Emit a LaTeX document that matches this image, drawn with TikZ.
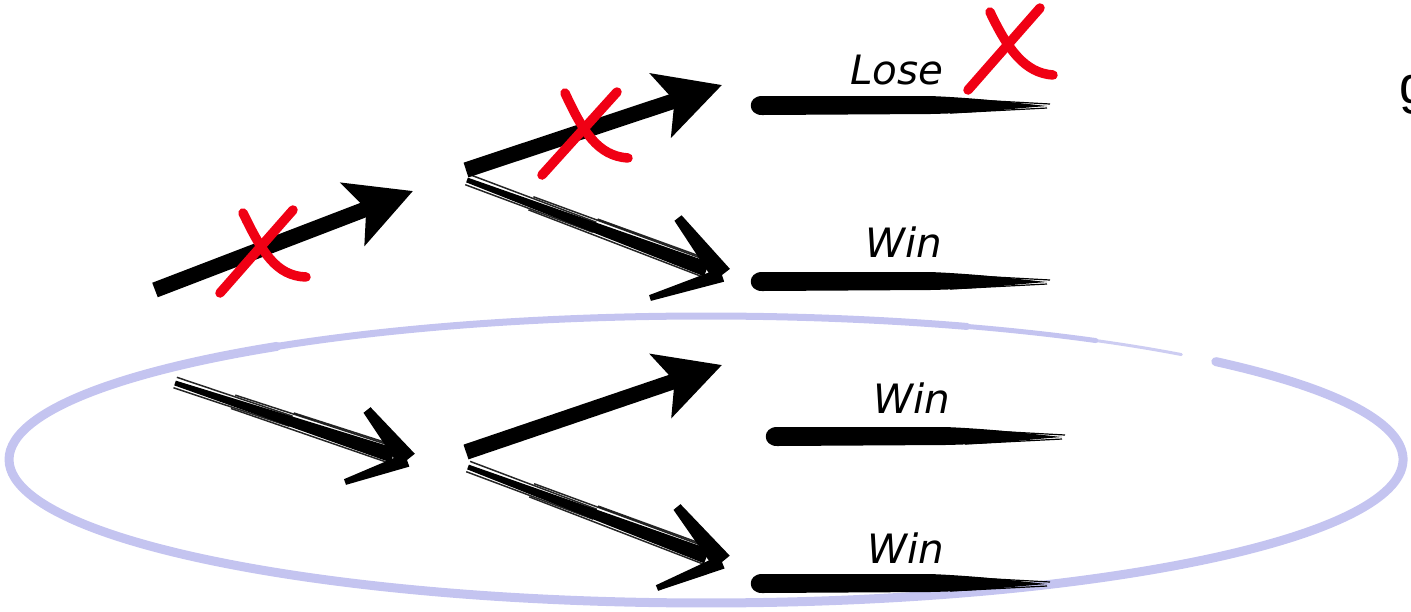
\documentclass[tikz,border=0pt]{standalone}
\usepackage{fontspec}
\usetikzlibrary{arrows.meta,calc}
\newfontfamily\handfont{DejaVu Sans}
\newfontfamily\gfont{Liberation Sans}
\definecolor{xred}{RGB}{240,0,20}
\definecolor{lav}{RGB}{196,196,240}
\tikzset{
  boldarrow/.style={draw=black, line width=0.155cm,
    -{Stealth[length=0.64cm, width=0.66cm, inset=0.14cm]}},
  redx/.style={draw=xred, line width=0.095cm, line cap=round, line join=round},
  streak/.style={draw=black, line width=0.015cm, opacity=0.85},
  label/.style={font=\handfont\itshape\fontsize{11.5}{12}\selectfont, inner sep=0pt},
  ell/.style={draw=lav, line cap=round},
}
\newcommand\taperstroke[4]{%
  \fill ($(#1)!#3!90:(#2)$) -- ($(#2)!#4!-90:(#1)$) -- ($(#2)!#4!90:(#1)$) -- ($(#1)!#3!-90:(#2)$) -- cycle;}
\newcommand\brusharrow[4]{%
  \coordinate (ba-e) at ($(#2)!0.06!(#1)$);
  \coordinate (ba-m) at ($(#1)!0.5!(#2)$);
  \coordinate (ba-q) at ($(#1)!0.25!(#2)$);
  \taperstroke{#1}{ba-e}{0.025cm}{0.075cm}
  \draw[streak] ($(#1)!0.06cm!90:(#2)$) -- ($(ba-m)!0.055cm!90:(#2)$);
  \draw[streak] ($(#1)!0.05cm!-90:(#2)$) -- ($(ba-m)!0.05cm!-90:(#2)$);
  \draw[streak] ($(ba-q)!0.075cm!90:(#2)$) -- ($(ba-e)!0.085cm!-90:(#1)$);
  \draw[streak] ($(ba-q)!0.065cm!-90:(#2)$) -- ($(ba-e)!0.085cm!90:(#1)$);
  \draw[streak] ($(ba-m)!0.09cm!90:(#2)$) -- ($(ba-e)!0.1cm!-90:(#1)$);
  \taperstroke{#3}{#2}{0.045cm}{0.1cm}
  \taperstroke{#4}{#2}{0.03cm}{0.07cm}
}
\newcommand\brushbar[2]{% left-end centre, length
  \fill[shift={(#1)}] (12,-10) -- (180,-10) .. controls (230,-8) and (#2-30,-3) .. (#2,0)
    .. controls (#2-40,3) and (230,7) .. (180,8) -- (12,9)
    .. controls (-3,9) and (-3,-10) .. (12,-10) -- cycle;
  \draw[shift={(#1)}, line width=0.012cm] (190,-8) -- (#2+3,-2);
  \draw[shift={(#1)}, line width=0.012cm] (200,7) -- (#2,2);
}
\begin{document}
\begin{tikzpicture}[x=0.01cm, y=-0.01cm]
\useasboundingbox (0,0) rectangle (1411,611);

% lavender ellipse
\draw[ell, line width=0.09cm] (1215.8,361.6) arc[start angle=-43, end angle=232, x radius=697, y radius=143.5];
\draw[ell, line width=0.07cm] ($(706,459.5)+({697*cos(230)},{143.5*sin(230)})$) arc[start angle=230, end angle=292, x radius=697, y radius=143.5];
\draw[ell, line width=0.05cm] ($(706,459.5)+({697*cos(290)},{143.5*sin(290)})$) arc[start angle=290, end angle=304, x radius=697, y radius=143.5];
\draw[ell, line width=0.03cm, opacity=0.85] ($(706,459.5)+({697*cos(302)},{143.5*sin(302)})$) arc[start angle=302, end angle=313, x radius=697, y radius=143.5];

% coordinates
\coordinate (a1s) at (155,290);  \coordinate (a1e) at (413,191);
\coordinate (a2s) at (466,170);  \coordinate (a2e) at (722,85);
\coordinate (a5s) at (466,452);  \coordinate (a5e) at (722,365);
\coordinate (b3s) at (467,180);  \coordinate (b3e) at (722,275);
\coordinate (b3u) at (678,218);  \coordinate (b3l) at (650,298);
\coordinate (b4s) at (175,383);  \coordinate (b4e) at (407,460);
\coordinate (b4u) at (367,410);  \coordinate (b4l) at (345,482);
\coordinate (b6s) at (468,467);  \coordinate (b6e) at (722,562);
\coordinate (b6u) at (677,507);  \coordinate (b6l) at (657,588);
\coordinate (barL) at (750,106);
\coordinate (barW1) at (750,282);
\coordinate (barW2) at (765,437);
\coordinate (barW3) at (750,584);

% bold arrows
\draw[boldarrow] (a1s) -- (a1e);
\draw[boldarrow] (a2s) -- (a2e);
\draw[boldarrow] (a5s) -- (a5e);

% brush arrows
\brusharrow{b3s}{b3e}{b3u}{b3l}
\brusharrow{b4s}{b4e}{b4u}{b4l}
\brusharrow{b6s}{b6e}{b6u}{b6l}

% brush bars
\brushbar{barL}{297}
\brushbar{barW1}{297}
\brushbar{barW2}{297}
\brushbar{barW3}{297}

% labels
\node[label] (lose) at (897,70) {Lose};
\node[label] (win1) at (904,242) {Win};
\node[label] (win2) at (912,398) {Win};
\node[label] (win3) at (906,548) {Win};
\node[font=\gfont\fontsize{15}{16}\selectfont, inner sep=0pt, anchor=base west] (g) at (1399,103) {g};

% red crosses
\draw[redx] (220,293) -- (293,210);
\draw[redx] (243,213) .. controls (262,252) and (276,276) .. (306,277);
\draw[redx] (542,175) -- (617,92);
\draw[redx] (565,93) .. controls (583,132) and (598,156) .. (628,158);
\draw[redx] (968,90) -- (1040,8);
\draw[redx] (990,12) .. controls (1008,50) and (1025,73) .. (1053,75);
\end{tikzpicture}
\end{document}
